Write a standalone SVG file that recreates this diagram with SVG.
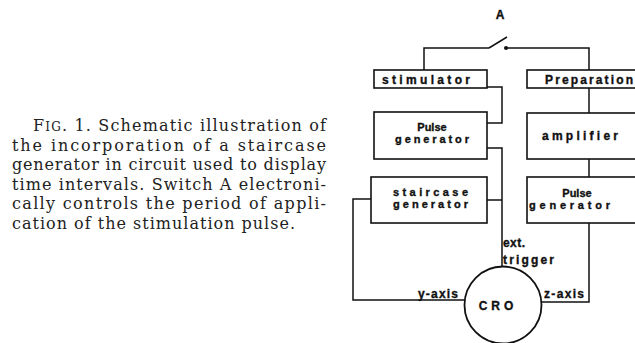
<svg xmlns="http://www.w3.org/2000/svg" width="635" height="343" viewBox="0 0 635 343">
<style>
.cap{font-family:"DejaVu Serif","Liberation Serif",serif;font-size:16px;fill:#222}
.lbl{font-family:"Liberation Sans",Arial,sans-serif;font-weight:bold;font-size:12px;fill:#111;stroke:#111;stroke-width:0.35}
.two{font-size:11px}
.box{fill:#fff;stroke:#111;stroke-width:1.6}
.w{fill:none;stroke:#111;stroke-width:1.5}
</style>
<rect width="635" height="343" fill="#fff"/>
<g id="caption">
<text class="cap" x="33" y="131" textLength="293" lengthAdjust="spacing">F<tspan font-size="12">IG</tspan>. 1. Schematic illustration of</text>
<text class="cap" x="12" y="150.5" textLength="314" lengthAdjust="spacing">the incorporation of a staircase</text>
<text class="cap" x="12" y="170" textLength="314" lengthAdjust="spacing">generator in circuit used to display</text>
<text class="cap" x="12" y="189.5" textLength="314" lengthAdjust="spacing">time intervals. Switch A electroni-</text>
<text class="cap" x="12" y="209" textLength="314" lengthAdjust="spacing">cally controls the period of appli-</text>
<text class="cap" x="12" y="228.5" textLength="283" lengthAdjust="spacing">cation of the stimulation pulse.</text>
</g>
<g id="connectors">
<polyline class="w" points="424,71 424,48 489,48"/>
<line class="w" x1="489" y1="48" x2="507" y2="37"/>
<circle cx="506" cy="48" r="2" fill="#111"/>
<polyline class="w" points="506,48 589,48 589,71"/>
<polyline class="w" points="487,87 502,87 502,123 487,123"/>
<polyline class="w" points="487,148 502,148 502,268"/>
<line class="w" x1="487" y1="200" x2="502" y2="200"/>
<polyline class="w" points="371,199 353,199 353,300 466,300"/>
<polyline class="w" points="542,302 589,302 589,223"/>
<line class="w" x1="589" y1="88" x2="589" y2="113"/>
<line class="w" x1="589" y1="159" x2="589" y2="177"/>
<text class="lbl" x="418" y="298" textLength="40" lengthAdjust="spacing">y-axis</text>
<text class="lbl" x="544" y="298" textLength="40" lengthAdjust="spacing">z-axis</text>
<text class="lbl" x="503" y="247" textLength="22" lengthAdjust="spacing">ext.</text>
<text class="lbl" x="503" y="264" textLength="51" lengthAdjust="spacing">trigger</text>
</g>
<g id="switchA">
<text class="lbl" x="500" y="19" text-anchor="middle" font-size="12">A</text>
</g>
<g id="stimulator">
<rect class="box" x="374" y="70" width="113" height="18"/>
<text class="lbl" x="382" y="83.5" textLength="88" lengthAdjust="spacing">stimulator</text>
</g>
<g id="preparation">
<rect class="box" x="527" y="70" width="130" height="18"/>
<text class="lbl" x="545" y="83.5" textLength="88" lengthAdjust="spacing">Preparation</text>
</g>
<g id="pulse-generator-left">
<rect class="box" x="374" y="112" width="113" height="47"/>
<text class="lbl two" x="432" y="131" text-anchor="middle">Pulse</text>
<text class="lbl two" x="395" y="143" textLength="74" lengthAdjust="spacing">generator</text>
</g>
<g id="staircase-generator">
<rect class="box" x="371" y="177" width="116" height="46"/>
<text class="lbl two" x="393" y="196" textLength="75" lengthAdjust="spacing">staircase</text>
<text class="lbl two" x="393" y="208" textLength="75" lengthAdjust="spacing">generator</text>
</g>
<g id="amplifier">
<rect class="box" x="527" y="113" width="130" height="46"/>
<text class="lbl" x="542" y="140" textLength="76" lengthAdjust="spacing">amplifier</text>
</g>
<g id="pulse-generator-right">
<rect class="box" x="527" y="177" width="130" height="46"/>
<text class="lbl two" x="577" y="197" text-anchor="middle">Pulse</text>
<text class="lbl two" x="529" y="209" textLength="81" lengthAdjust="spacing">generator</text>
</g>
<g id="cro">
<circle cx="503" cy="305" r="38.5" fill="#fff" stroke="#111" stroke-width="1.8"/>
<text class="lbl" x="498" y="310" text-anchor="middle" font-size="13" letter-spacing="4">CRO</text>
</g>
</svg>
